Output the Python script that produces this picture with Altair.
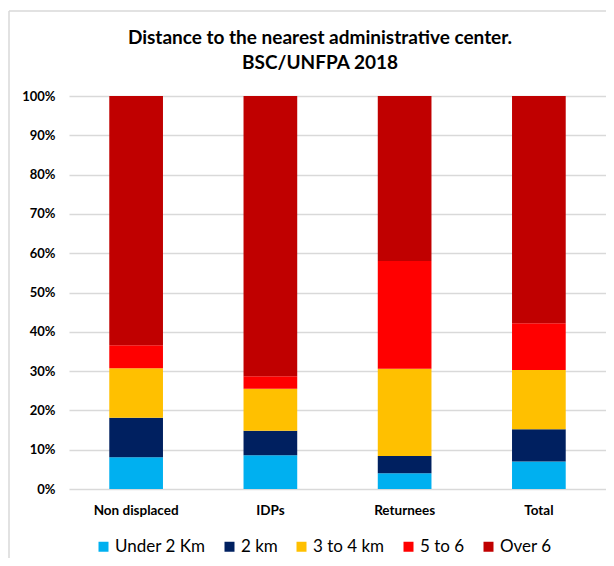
import altair as alt
import pandas as pd

categories = ["Non displaced", "IDPs", "Returnees", "Total"]
series = ["Under 2 Km", "2 km", "3 to 4 km", "5 to 6", "Over 6"]
colors = ["#00B0F0", "#002060", "#FFC000", "#FF0000", "#C00000"]

under_2km = [8.1, 8.6, 4.0, 7.0]
two_km = [10.0, 6.2, 4.4, 8.2]
three_to_four = [12.6, 10.7, 22.2, 15.1]
five_to_six = [5.9, 3.2, 27.4, 11.9]
over_six = [63.4, 71.3, 42.0, 57.8]

y_ticks = [0, 0.1, 0.2, 0.3, 0.4, 0.5, 0.6, 0.7, 0.8, 0.9, 1.0]
title_lines = ["Distance to the nearest administrative center.", "BSC/UNFPA 2018"]

values = [under_2km, two_km, three_to_four, five_to_six, over_six]
rows = []
for si, (s, vals) in enumerate(zip(series, values)):
    for c, v in zip(categories, vals):
        rows.append({"category": c, "series": s, "idx": si, "value": v / 100.0})
df = pd.DataFrame(rows)

FONT = "Lato"
W, H = 537, 393

bars = alt.Chart(df).mark_bar().encode(
    x=alt.X("category:N", sort=categories,
            scale=alt.Scale(paddingInner=0.6, paddingOuter=0.3),
            axis=alt.Axis(title=None, labelAngle=0, labelFont=FONT, labelFontSize=13.5,
                          labelFontWeight="bold", labelColor="#000000", labelPadding=14,
                          ticks=False, domain=False)),
    y=alt.Y("value:Q", stack="zero",
            scale=alt.Scale(domain=[0, 1], nice=False),
            axis=alt.Axis(title=None, format=".0%", values=y_ticks, labelFont=FONT,
                          labelFontSize=13, labelFontWeight="bold", labelColor="#000000",
                          labelPadding=14, ticks=False, domain=False,
                          gridColor="#d9d9d9", gridWidth=1.5)),
    color=alt.Color("series:N", sort=series,
                    scale=alt.Scale(domain=series, range=colors),
                    legend=alt.Legend(title=None, orient="none", direction="horizontal",
                                      columns=5, legendX=26, legendY=442,
                                      symbolType="square", symbolSize=100,
                                      symbolStrokeWidth=0, labelFont=FONT,
                                      labelFontSize=17, labelColor="#000000",
                                      labelOffset=3, columnPadding=15)),
    order=alt.Order("idx:Q", sort="ascending"),
)

frame_src = pd.DataFrame({"k": [0]})
frame_left = alt.Chart(frame_src).mark_rule(color="#d9d9d9", strokeWidth=1.5).encode(
    x=alt.value(-60), y=alt.value(-85), y2=alt.value(H + 69)
)
frame_top = alt.Chart(frame_src).mark_rule(color="#d9d9d9", strokeWidth=1.5).encode(
    x=alt.value(-60), x2=alt.value(W), y=alt.value(-85)
)

title_df = pd.DataFrame({"t": title_lines})
title1 = alt.Chart(title_df.iloc[[0]]).mark_text(
    font=FONT, fontSize=19, fontWeight="bold", color="#000000",
    align="center", baseline="alphabetic",
).encode(text="t:N", x=alt.value(251), y=alt.value(-52.5))
title2 = alt.Chart(title_df.iloc[[1]]).mark_text(
    font=FONT, fontSize=19, fontWeight="bold", color="#000000",
    align="center", baseline="alphabetic",
).encode(text="t:N", x=alt.value(251), y=alt.value(-27.5))

chart = alt.layer(frame_left, frame_top, bars, title1, title2).properties(
    width=W,
    height=H,
    autosize=alt.AutoSizeParams(type="none"),
    padding={"left": 61, "top": 88, "right": 0, "bottom": 69},
).configure_view(stroke=None)

chart.save("out.html", embed_options={"renderer": "svg", "actions": False})
